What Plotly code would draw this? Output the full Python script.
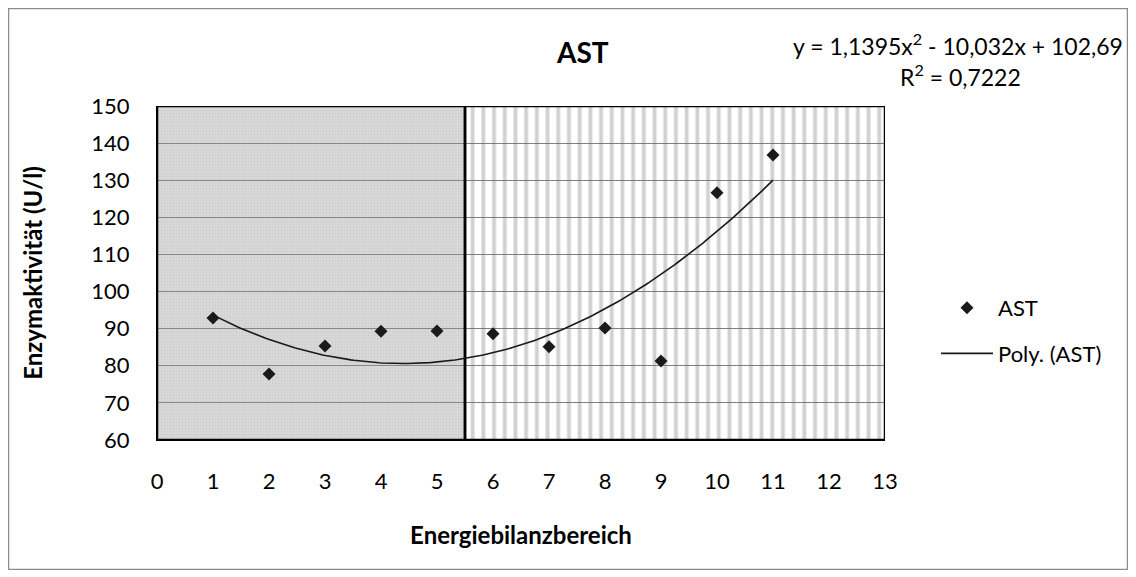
import numpy as np
import plotly.graph_objects as go

# data
energy_range = [1, 2, 3, 4, 5, 6, 7, 8, 9, 10, 11]
ast_values = [92.9, 77.8, 85.3, 89.3, 89.4, 88.6, 85.1, 90.2, 81.3, 126.6, 136.8]
zone_centers = [2.75, 9.25]
zone_widths = [5.5, 7.5]
zone_base = 60
zone_height = 90
x_ticks = list(range(0, 14))
y_ticks = list(range(60, 160, 10))

# page offset (browser body margin) = 8 px
OFF = 8
W, H = 1120, 562
L, R, T, B = 157 - OFF, 885 - OFF, 106 - OFF, 440 - OFF


def px(x):  # page x -> paper
    return (x - OFF - L) / (R - L)


def py(y):  # page y -> paper
    return (B - (y - OFF)) / (B - T)


coef = np.polyfit(energy_range, ast_values, 2)
xf = np.linspace(min(energy_range), max(energy_range), 200)
yf = np.polyval(coef, xf)

font = "Lato, 'Open Sans', sans-serif"
FS = 22

fig = go.Figure()
# background zones
fig.add_trace(go.Bar(
    x=[zone_centers[0]], y=[zone_height], base=[zone_base], width=[zone_widths[0]],
    marker=dict(color="rgba(150,150,150,0.36)",
                line=dict(color="black", width=2.5),
                pattern=dict(shape=".", size=3, solidity=0.35,
                             fgcolor="rgba(120,120,120,0.25)", fillmode="overlay")),
    showlegend=False, hoverinfo="skip"))
fig.add_trace(go.Bar(
    x=[zone_centers[1]], y=[zone_height], base=[zone_base], width=[zone_widths[1]],
    marker=dict(color="rgba(255,255,255,0)",
                line=dict(color="black", width=2.5),
                pattern=dict(shape="|", size=10.7, solidity=0.36,
                             fgcolor="rgba(100,100,100,0.6)", fillmode="overlay")),
    showlegend=False, hoverinfo="skip"))

fig.add_trace(go.Scatter(
    x=energy_range, y=ast_values, mode="markers", name="AST", legendgroup="a",
    marker=dict(symbol="diamond", size=10, color="#1a1a1a")))
fig.add_trace(go.Scatter(
    x=xf, y=yf, mode="lines", name="Poly. (AST)", legendgroup="b",
    line=dict(color="#1a1a1a", width=1.6)))

fig.update_layout(
    width=W, height=H,
    margin=dict(l=L, r=W - R, t=T, b=H - B),
    paper_bgcolor="white", plot_bgcolor="white",
    font=dict(family=font, size=FS, color="black"),
    barmode="overlay",
    showlegend=True,
    legend=dict(x=px(936), y=py(287), xanchor="left", yanchor="top",
                font=dict(size=FS), tracegroupgap=14, itemwidth=52,
                traceorder="grouped", bgcolor="rgba(0,0,0,0)"),
    xaxis=dict(range=[0, 13], tickmode="array", tickvals=x_ticks,
               showgrid=False, zeroline=False, showline=True,
               linecolor="black", linewidth=1, ticks="", ticklabelstandoff=22,
               title=dict(text="<b>Energiebilanzbereich</b>", font=dict(size=FS + 2),
                          standoff=33)),
    yaxis=dict(range=[60, 150], tickmode="array", tickvals=y_ticks,
               showgrid=True, gridcolor="#808080", gridwidth=1,
               zeroline=False, showline=True, linecolor="black", linewidth=1,
               ticks="", ticklabelstandoff=22,
               title=dict(text="<b>Enzymaktivität (U/l)</b>", font=dict(size=FS + 2),
                          standoff=41)),
)

fig.add_annotation(x=px(582), y=py(52), xref="paper", yref="paper",
                   text="<b>AST</b>", showarrow=False, font=dict(size=28),
                   xanchor="center", yanchor="middle")
fig.add_annotation(x=px(958), y=py(45), xref="paper", yref="paper",
                   text="y = 1,1395x<sup>2</sup> - 10,032x + 102,69",
                   showarrow=False, font=dict(size=FS + 1),
                   xanchor="center", yanchor="middle")
fig.add_annotation(x=px(960), y=py(75), xref="paper", yref="paper",
                   text="R<sup>2</sup> = 0,7222",
                   showarrow=False, font=dict(size=FS + 1),
                   xanchor="center", yanchor="middle")

fig.add_shape(type="rect", xref="paper", yref="paper",
              x0=px(8.5), x1=px(1127.5), y0=py(569.5), y1=py(8.5),
              line=dict(color="#8c8c8c", width=1.5), fillcolor="rgba(0,0,0,0)",
              layer="below")

fig.write_html("out.html")
